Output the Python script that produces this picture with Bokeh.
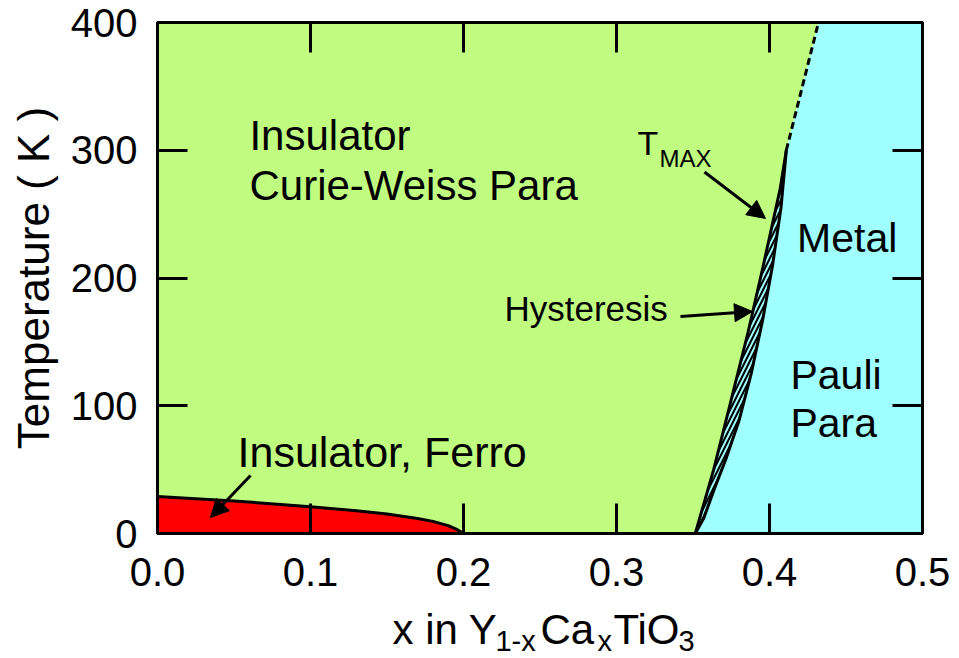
import math
from bokeh.plotting import figure
from bokeh.layouts import column
from bokeh.models import Range1d, LinearAxis, FixedTicker, PrintfTickFormatter, Label, Arrow, NormalHead
from bokeh.embed import file_html
from bokeh.resources import INLINE

# ---------------- data ----------------
x_ticks = [0.0, 0.1, 0.2, 0.3, 0.4, 0.5]
y_ticks = [0, 100, 200, 300, 400]
x_min, x_max = 0.0, 0.5
y_min, y_max = 0.0, 400.0

# ferromagnetic insulator boundary
ferro_x = [0.0, 0.05, 0.10, 0.13, 0.15, 0.17, 0.18, 0.19, 0.196, 0.2]
ferro_T = [29, 25.5, 21, 17.8, 15.3, 11.8, 9.5, 6.2, 3.0, 0]

# hysteresis: left (insulator side) and right (metal side) boundaries
left_x = [0.3515, 0.3575, 0.3635, 0.3740, 0.3855, 0.3960, 0.4070, 0.4110]
left_T = [0, 25, 50, 100, 155, 210, 270, 300]
right_x = [0.3515, 0.3570, 0.3640, 0.3720, 0.3800, 0.3880, 0.3955, 0.4020, 0.4075, 0.4110]
right_T = [0, 12, 35, 60, 88, 125, 167, 210, 255, 300]

# T_MAX extrapolation (dashed)
dash_x = [0.4110, 0.4320]
dash_T = [300, 400]

GREEN = "#C0FC80"
CYAN = "#A0FFFF"
RED = "#FF0000"
FONT = "Liberation Sans"

W = 959
H_MAIN = 606
H_LAB = 658 - H_MAIN
B_LEFT, B_RIGHT = 157, 37
FRAME_H = 511.0
PX_PER_UNIT_Y = FRAME_H / (y_max - y_min)
BASE_FIX = 0.31  # em fraction to lift "alphabetic" baselines

p = figure(width=W, height=H_MAIN, x_range=Range1d(x_min, x_max), y_range=Range1d(y_min, y_max),
           output_backend="svg", toolbar_location=None,
           min_border_left=B_LEFT, min_border_right=B_RIGHT, min_border_top=22,
           min_border_bottom=H_MAIN - 533,
           background_fill_color=GREEN, border_fill_color="white")
p.grid.visible = False
p.outline_line_color = "black"
p.outline_line_width = 3

p.add_layout(LinearAxis(), "right")
p.add_layout(LinearAxis(), "above")

for ax in p.xaxis:
    ax.ticker = FixedTicker(ticks=x_ticks)
    ax.formatter = PrintfTickFormatter(format="%.1f")
    ax.major_label_standoff = 24
for ax in p.yaxis:
    ax.ticker = FixedTicker(ticks=y_ticks)
    ax.major_label_standoff = 20
for ax in p.axis:
    ax.major_tick_in = 30
    ax.major_tick_out = 0
    ax.minor_tick_in = 0
    ax.minor_tick_out = 0
    ax.major_tick_line_width = 3
    ax.major_tick_line_color = "black"
    ax.axis_line_width = 3
    ax.axis_line_color = "black"
    ax.major_label_text_font = FONT
    ax.major_label_text_font_size = "40px"
    ax.major_label_text_color = "black"
for ax in p.right + p.above:
    ax.major_label_text_font_size = "0px"
    ax.major_label_text_color = None
    ax.major_label_standoff = 0

yax = p.left[0]
yax.axis_label = "Temperature ( K )"
yax.axis_label_text_font = FONT
yax.axis_label_text_font_size = "44px"
yax.axis_label_text_font_style = "normal"
yax.axis_label_text_color = "black"
yax.axis_label_standoff = 10

# regions
cyan_x = left_x + dash_x[1:] + [x_max, x_max]
cyan_T = left_T + dash_T[1:] + [y_max, y_min]
p.patch(cyan_x, cyan_T, fill_color=CYAN, line_color=None)

hyst_x = left_x + right_x[::-1]
hyst_T = left_T + right_T[::-1]
p.patch(hyst_x, hyst_T, fill_color=CYAN, line_color=None,
        hatch_pattern="/", hatch_color="black", hatch_scale=9, hatch_weight=2)

p.patch(ferro_x + [x_min], ferro_T + [y_min], fill_color=RED, line_color=None)

p.line(left_x, left_T, line_color="black", line_width=3)
p.line(right_x, right_T, line_color="black", line_width=3)
p.line(ferro_x, ferro_T, line_color="black", line_width=3)
p.line(dash_x, dash_T, line_color="black", line_width=3, line_dash="7 4")

# arrows
arrows = [
    ((0.3575, 283.0), (0.3974, 246.6)),
    ((0.3418, 169.9), (0.3889, 173.8)),
    ((0.0608, 45.4), (0.0346, 12.5)),
]
for (xs, ys), (xe, ye) in arrows:
    p.add_layout(Arrow(end=NormalHead(size=18, fill_color="black", line_color="black", line_width=1),
                       x_start=xs, y_start=ys, x_end=xe, y_end=ye,
                       line_color="black", line_width=3))

# in-plot texts: (text, x, baseline y, size px)
texts = [
    ("Insulator", 0.0601, 301.0, 42),
    ("Curie-Weiss Para", 0.0601, 262.0, 42),
    ("Insulator, Ferro", 0.0523, 53.2, 43),
    ("Metal", 0.4180, 221.5, 41),
    ("Pauli", 0.4137, 114.3, 41),
    ("Para", 0.4137, 76.7, 41),
    ("Hysteresis", 0.2268, 167.5, 35),
    ("T", 0.3137, 297.5, 34),
    ("MAX", 0.3281, 288.0, 24),
]
for t, x, y, s in texts:
    p.add_layout(Label(x=x, y=y + BASE_FIX * s / PX_PER_UNIT_Y, text=t, text_font=FONT,
                       text_font_size=f"{s}px", text_align="left", text_baseline="alphabetic",
                       text_color="black"))

# x-axis title with subscripts, in its own strip below the plot (shares the x scale)
q = figure(width=W, height=H_LAB, x_range=p.x_range, y_range=Range1d(0, H_LAB),
           output_backend="svg", toolbar_location=None,
           min_border_left=B_LEFT, min_border_right=B_RIGHT, min_border_top=0, min_border_bottom=0,
           x_axis_type=None, y_axis_type=None, background_fill_color="white", border_fill_color="white")
q.title.visible = False
q.grid.visible = False
q.outline_line_color = None

# (text, x in data units of the main x axis, baseline height in strip pixels, size px)
xlab_parts = [
    ("x in Y", 0.1536, 16, 42),
    ("1-x", 0.2209, 9, 29),
    ("Ca", 0.2503, 16, 42),
    ("x", 0.2876, 9, 29),
    ("TiO", 0.2980, 16, 42),
    ("3", 0.3405, 9, 29),
]
for t, x, y, s in xlab_parts:
    q.add_layout(Label(x=x, y=y + BASE_FIX * s, text=t, text_font=FONT, text_font_size=f"{s}px",
                       text_align="left", text_baseline="alphabetic", text_color="black"))

layout = column(p, q, spacing=0)
open("out.html", "w").write(file_html(layout, INLINE))
